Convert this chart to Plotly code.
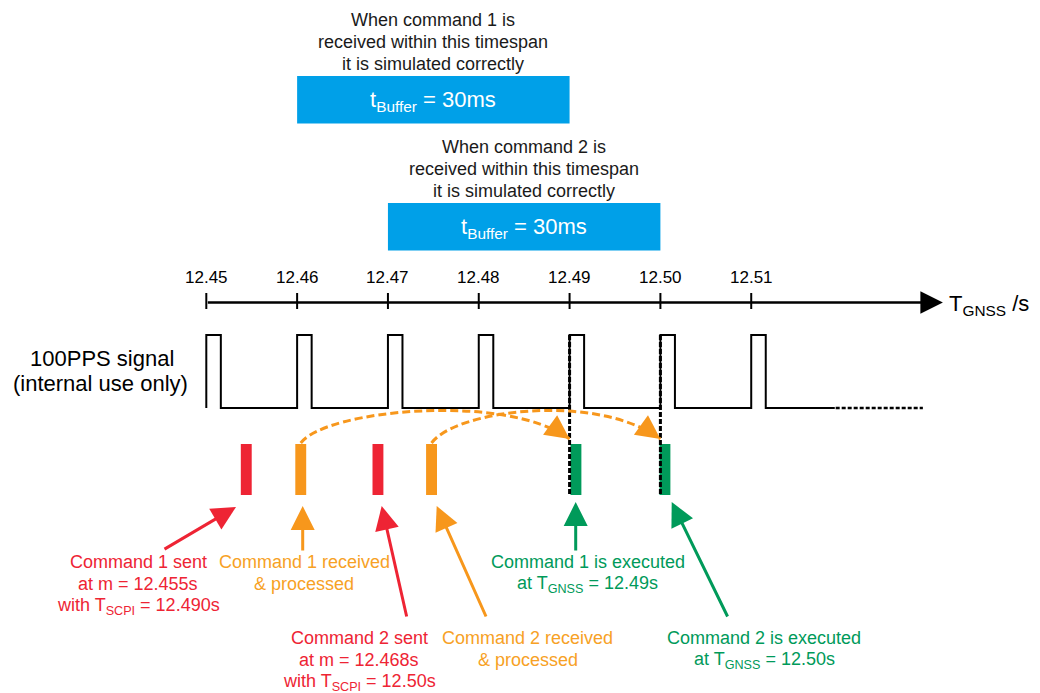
import plotly.graph_objects as go

# ------------------------------------------------------------------ data
tick_values = [12.45, 12.46, 12.47, 12.48, 12.49, 12.50, 12.51]
tick_labels = ["12.45", "12.46", "12.47", "12.48", "12.49", "12.50", "12.51"]
pps_starts = [12.45, 12.46, 12.47, 12.48, 12.49, 12.50, 12.51]
pps_width = 0.0016          # s, high phase of each 100PPS pulse
pps_end = 12.5192           # end of solid signal line
pps_more = [12.5193, 12.5289]  # dashed continuation
cmd_sent = [12.4538, 12.4683]       # red bars (left edge)
cmd_received = [12.4598, 12.4742]   # orange bars (left edge)
cmd_executed = [12.4901, 12.4999]   # green bars (left edge)
t_scpi = [12.490, 12.500]           # execution instants
cmd_bar_width = 0.0012
buffer_start = [12.46, 12.47]
buffer_ms = [30, 30]
axis_end = 12.5311

# ------------------------------------------------------------------ style / layout helpers
RED = "#EE2434"
ORANGE = "#F7971C"
ORANGE_TXT = "#F7A125"
GREEN = "#009A5A"
BLUE = "#00A0E8"
FONT = "Liberation Sans, Arial, sans-serif"

W, H = 1040, 693
PX0, SCALE = 206.3, 9082.0   # pixel of 12.45 s, pixels per second


def tx(p):
    return 12.45 + (p - PX0) / SCALE


def px(t):
    return PX0 + (t - 12.45) * SCALE


Y_TICKLBL, Y_AXIS = 277, 302.5
Y_HIGH, Y_LOW = 335, 408
Y_BAR_TOP, Y_BAR_BOT = 444, 495

fig = go.Figure()
annotations = []
shapes = []


def add_arrow(x0, y0, x1, y1, color, width=3, size=1.6):
    annotations.append(dict(x=x1, y=y1, ax=x0, ay=y0,
                            xref="x", yref="y", axref="x", ayref="y", text="",
                            showarrow=True, arrowhead=2, arrowsize=size,
                            arrowwidth=width, arrowcolor=color))


# ---- timeline axis: line + arrow, ticks, labels
add_arrow(tick_values[0], Y_AXIS, axis_end, Y_AXIS, "black", width=2.5, size=1.8)
tx_ticks, ty_ticks = [], []
for t in tick_values:
    tx_ticks += [t, t, None]
    ty_ticks += [Y_AXIS - 9.5, Y_AXIS + 6.5, None]
fig.add_trace(go.Scatter(x=tx_ticks, y=ty_ticks, mode="lines",
                         line=dict(color="black", width=2), hoverinfo="skip"))
for t, lab in zip(tick_values, tick_labels):
    annotations.append(dict(x=t, y=Y_TICKLBL, xref="x", yref="y", text=lab,
                            showarrow=False, font=dict(family=FONT, size=17, color="black")))
annotations.append(dict(x=tx(947), y=Y_AXIS + 2, xref="x", yref="y", xanchor="left",
                        text="T<sub>GNSS</sub> /s", showarrow=False,
                        font=dict(family=FONT, size=22, color="black")))

# ---- 100PPS signal
sx, sy = [], []
for p in pps_starts:
    sx += [p, p, p + pps_width, p + pps_width]
    sy += [Y_LOW, Y_HIGH, Y_HIGH, Y_LOW]
sx.append(pps_end)
sy.append(Y_LOW)
fig.add_trace(go.Scatter(x=sx, y=sy, mode="lines",
                         line=dict(color="black", width=2), hoverinfo="skip"))
fig.add_trace(go.Scatter(x=pps_more, y=[Y_LOW, Y_LOW], mode="lines",
                         line=dict(color="black", width=2.5, dash="4px,2px"), hoverinfo="skip"))
annotations.append(dict(x=tx(102), y=358, xref="x", yref="y", text="100PPS signal",
                        showarrow=False, font=dict(family=FONT, size=22, color="black")))
annotations.append(dict(x=tx(100), y=383, xref="x", yref="y", text="(internal use only)",
                        showarrow=False, font=dict(family=FONT, size=22, color="black")))

# ---- execution markers (dashed black verticals)
vx, vy = [], []
for t in t_scpi:
    vx += [t, t, None]
    vy += [Y_HIGH, Y_BAR_BOT, None]
fig.add_trace(go.Scatter(x=vx, y=vy, mode="lines",
                         line=dict(color="black", width=3, dash="5px,2px"), hoverinfo="skip"))

# ---- command bars
for starts, col in ((cmd_sent, RED), (cmd_received, ORANGE), (cmd_executed, GREEN)):
    fig.add_trace(go.Bar(x=[s + cmd_bar_width / 2 for s in starts],
                         y=[Y_BAR_BOT - Y_BAR_TOP] * len(starts),
                         base=[Y_BAR_TOP] * len(starts),
                         width=[cmd_bar_width] * len(starts),
                         marker=dict(color=col, line=dict(width=0)), hoverinfo="skip"))

# ---- dashed orange arcs received -> executed
for r, e in zip(cmd_received, t_scpi):
    x0 = r + cmd_bar_width / 2
    y0 = Y_BAR_TOP - 1
    x3, y3 = e, 439
    x1, y1 = tx(px(x0) + 24), 410
    x2, y2 = tx(px(x3) - 64), 392
    shapes.append(dict(type="path", xref="x", yref="y",
                       path=f"M {x0},{y0} C {x1},{y1} {x2},{y2} {x3},{y3}",
                       line=dict(color=ORANGE, width=3, dash="8px,4px")))
    add_arrow(tx(px(x3) - 18), y3 - 13, x3, y3, ORANGE, width=3, size=1.6)

# ---- buffer boxes
for i, (bs, ms) in enumerate(zip(buffer_start, buffer_ms)):
    be = bs + ms / 1000.0
    top = 76 if i == 0 else 203
    shapes.append(dict(type="rect", xref="x", yref="y", x0=bs, x1=be, y0=top, y1=top + 47.5,
                       fillcolor=BLUE, line=dict(width=0), layer="below"))
    cx = (bs + be) / 2
    annotations.append(dict(x=cx, y=top + 25, xref="x", yref="y",
                            text=f"t<sub>Buffer</sub> = {ms}ms", showarrow=False,
                            font=dict(family=FONT, size=22, color="white")))
    lines = [f"When command {i + 1} is", "received within this timespan",
             "it is simulated correctly"]
    for k, ln in enumerate(lines):
        annotations.append(dict(x=cx, y=top - 56 + 22 * k, xref="x", yref="y", text=ln,
                                showarrow=False,
                                font=dict(family=FONT, size=18, color="#1a1a1a")))

# ---- bottom labels with arrows
labels = [
    (RED, RED, 138, 562, ["Command 1 sent", "at m = 12.455s", "with T<sub>SCPI</sub> = 12.490s"],
     (163, 550), (236, 507)),
    (ORANGE_TXT, ORANGE, 304, 562, ["Command 1 received", "& processed"],
     (302.7, 552), (302.7, 506)),
    (RED, RED, 359, 638, ["Command 2 sent", "at m = 12.468s", "with T<sub>SCPI</sub> = 12.50s"],
     (407, 618), (381.7, 506)),
    (ORANGE_TXT, ORANGE, 527.5, 638, ["Command 2 received", "& processed"],
     (486.7, 618), (436.7, 506)),
    (GREEN, GREEN, 587.5, 562, ["Command 1 is executed", "at T<sub>GNSS</sub> = 12.49s"],
     (575.7, 552), (575.7, 502)),
    (GREEN, GREEN, 764, 638, ["Command 2 is executed", "at T<sub>GNSS</sub> = 12.50s"],
     (728.3, 618), (671.7, 502)),
]
for col, acol, cxp, y0, lines, tail, head in labels:
    for k, ln in enumerate(lines):
        annotations.append(dict(x=tx(cxp), y=y0 + 22 * k, xref="x", yref="y", text=ln,
                                showarrow=False, font=dict(family=FONT, size=18, color=col)))
    add_arrow(tx(tail[0]), tail[1], tx(head[0]), head[1], acol, width=3, size=1.6)

fig.update_layout(
    width=W, height=H, margin=dict(l=0, r=0, t=0, b=0),
    paper_bgcolor="white", plot_bgcolor="white",
    showlegend=False, barmode="overlay", hovermode=False,
    xaxis=dict(range=[tx(0), tx(W)], visible=False, fixedrange=True),
    yaxis=dict(range=[H, 0], visible=False, fixedrange=True),
    annotations=annotations, shapes=shapes,
)

fig.write_html("out.html", config={"displayModeBar": False},
               post_script="document.body.style.margin='0';document.body.style.overflow='hidden';")
